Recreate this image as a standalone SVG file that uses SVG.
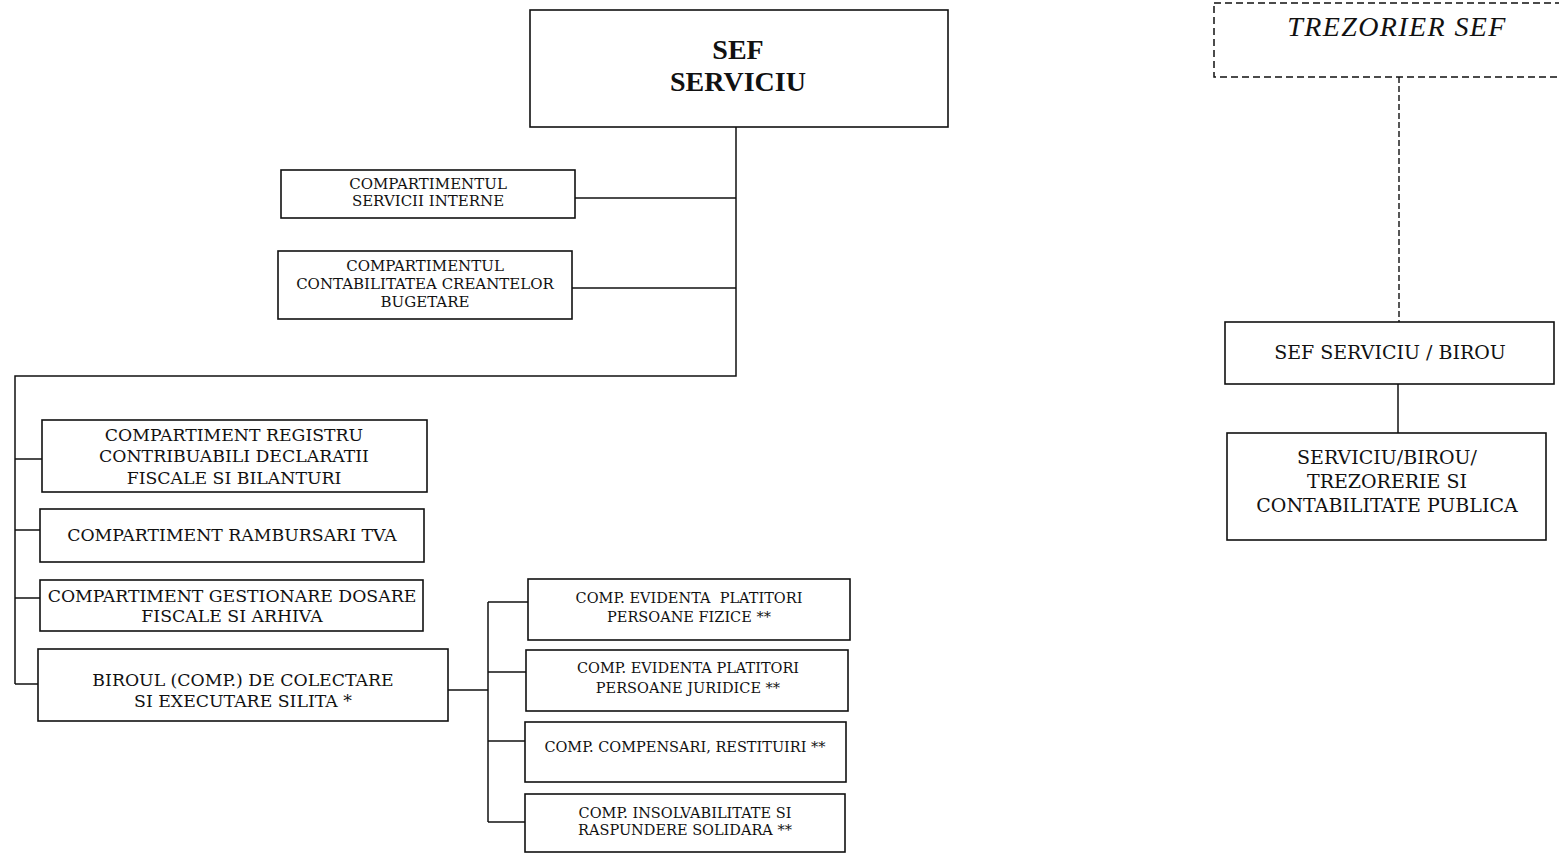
<svg xmlns="http://www.w3.org/2000/svg" width="1559" height="853" viewBox="0 0 1559 853">
<style>
.box{fill:#fff;stroke:#111;stroke-width:1.6}
.dbox{fill:#fff;stroke:#111;stroke-width:1.5;stroke-dasharray:7 4}
.ln{fill:none;stroke:#111;stroke-width:1.5}
.dl{fill:none;stroke:#111;stroke-width:1.4;stroke-dasharray:6 3}
text{font-family:"DejaVu Serif","Liberation Serif",serif;fill:#111;text-anchor:middle}
.big{font-family:"Liberation Serif",serif;font-size:28px;font-weight:bold}
.s{font-size:15px}
.x{font-size:14.5px}
.m{font-size:17.3px}
.r{font-size:19px}
.it{font-family:"Liberation Serif",serif;font-size:28px;font-style:italic;letter-spacing:1.4px}
</style>
<rect width="1559" height="853" fill="#fff"/>
<g id="connectors">
<path class="ln" d="M736,127 V376 H15 V684"/>
<path class="ln" d="M575,198 H736"/>
<path class="ln" d="M572,288 H736"/>
<path class="ln" d="M15,459 H42"/>
<path class="ln" d="M15,530 H40"/>
<path class="ln" d="M15,598 H40"/>
<path class="ln" d="M15,684 H38"/>
<path class="ln" d="M448,690 H488"/>
<path class="ln" d="M488,602 V822"/>
<path class="ln" d="M488,602 H528"/>
<path class="ln" d="M488,672 H526"/>
<path class="ln" d="M488,741 H525"/>
<path class="ln" d="M488,822 H525"/>
<path class="dl" d="M1399,77 V322"/>
<path class="ln" d="M1398,384 V433"/>
</g>
<g id="sef-serviciu">
<rect class="box" x="530" y="10" width="418" height="117"/>
<text class="big" x="738" y="59">SEF</text>
<text class="big" x="738" y="91">SERVICIU</text>
</g>
<g id="servicii-interne">
<rect class="box" x="281" y="170" width="294" height="48"/>
<text class="s" x="428" y="189">COMPARTIMENTUL</text>
<text class="s" x="428" y="206">SERVICII INTERNE</text>
</g>
<g id="contabilitatea-creantelor">
<rect class="box" x="278" y="251" width="294" height="68"/>
<text class="s" x="425" y="271">COMPARTIMENTUL</text>
<text class="s" x="425" y="289">CONTABILITATEA CREANTELOR</text>
<text class="s" x="425" y="307">BUGETARE</text>
</g>
<g id="registru-contribuabili">
<rect class="box" x="42" y="420" width="385" height="72"/>
<text class="m" x="234" y="441">COMPARTIMENT REGISTRU</text>
<text class="m" x="234" y="462">CONTRIBUABILI DECLARATII</text>
<text class="m" x="234" y="484">FISCALE SI BILANTURI</text>
</g>
<g id="rambursari-tva">
<rect class="box" x="40" y="509" width="384" height="53"/>
<text class="m" x="232" y="541">COMPARTIMENT RAMBURSARI TVA</text>
</g>
<g id="gestionare-dosare">
<rect class="box" x="40" y="580" width="383" height="51"/>
<text class="m" x="232" y="602">COMPARTIMENT GESTIONARE DOSARE</text>
<text class="m" x="232" y="622">FISCALE SI ARHIVA</text>
</g>
<g id="biroul-colectare">
<rect class="box" x="38" y="649" width="410" height="72"/>
<text class="m" x="243" y="686">BIROUL (COMP.) DE COLECTARE</text>
<text class="m" x="243" y="707">SI EXECUTARE SILITA *</text>
</g>
<g id="persoane-fizice">
<rect class="box" x="528" y="579" width="322" height="61"/>
<text class="x" x="689" y="603" xml:space="preserve">COMP. EVIDENTA  PLATITORI</text>
<text class="x" x="689" y="622">PERSOANE FIZICE **</text>
</g>
<g id="persoane-juridice">
<rect class="box" x="526" y="650" width="322" height="61"/>
<text class="x" x="688" y="673">COMP. EVIDENTA PLATITORI</text>
<text class="x" x="688" y="693">PERSOANE JURIDICE **</text>
</g>
<g id="compensari-restituiri">
<rect class="box" x="525" y="722" width="321" height="60"/>
<text class="x" x="685" y="752">COMP. COMPENSARI, RESTITUIRI **</text>
</g>
<g id="insolvabilitate">
<rect class="box" x="525" y="794" width="320" height="58"/>
<text class="x" x="685" y="818">COMP. INSOLVABILITATE SI</text>
<text class="x" x="685" y="835">RASPUNDERE SOLIDARA **</text>
</g>
<g id="trezorier-sef">
<rect class="dbox" x="1214" y="3" width="360" height="74"/>
<text class="it" x="1397" y="36">TREZORIER SEF</text>
</g>
<g id="sef-serviciu-birou">
<rect class="box" x="1225" y="322" width="329" height="62"/>
<text class="r" x="1390" y="359">SEF SERVICIU / BIROU</text>
</g>
<g id="trezorerie-contabilitate">
<rect class="box" x="1227" y="433" width="319" height="107"/>
<text class="r" x="1387" y="464">SERVICIU/BIROU/</text>
<text class="r" x="1387" y="488">TREZORERIE SI</text>
<text class="r" x="1387" y="512">CONTABILITATE PUBLICA</text>
</g>
</svg>
